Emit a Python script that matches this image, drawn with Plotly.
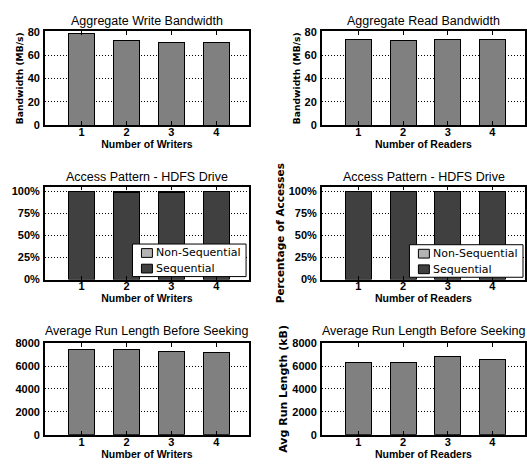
import plotly.graph_objects as go

categories = [1, 2, 3, 4]
write_bw = [78.8, 72.3, 71.2, 71.2]
read_bw = [73.8, 72.3, 73.4, 73.4]
write_seq = [99.2, 98.5, 98.5, 99.2]
write_nonseq = [0.8, 1.5, 1.5, 0.8]
read_seq = [99.2, 99.2, 99.2, 99.2]
read_nonseq = [0.8, 0.8, 0.8, 0.8]
write_runlen = [7400, 7480, 7300, 7180]
read_runlen = [6300, 6300, 6800, 6560]
legend_labels = ["Non-Sequential", "Sequential"]

W, H = 527, 468
BOLDFAM = "Liberation Sans"
TICKFONT = dict(family=BOLDFAM, size=11, color="black", weight="bold")
AXTITLEFONT = dict(family=BOLDFAM, size=10.5, color="black", weight="bold")
TITLEFONT = dict(family="Liberation Sans", size=12.5, color="black")

fig = go.Figure()

def px_x(a, b):
    return [a / W, min(b / W, 1.0)]

def px_y(top, bottom):
    return [1 - bottom / H, 1 - top / H]

panels = [
    dict(n=1, x=(45, 250), y=(26, 122.3), yr=[0, 80.5], tv=[0, 20, 40, 60, 80], tt=None,
         title="Aggregate Write Bandwidth", xt="Number of Writers", yt="Bandwidth (MB/s)", ys=9.2),
    dict(n=2, x=(323, 528), y=(26, 122.3), yr=[0, 80.5], tv=[0, 20, 40, 60, 80], tt=None,
         title="Aggregate Read Bandwidth", xt="Number of Readers", yt="Bandwidth (MB/s)", ys=9.2),
    dict(n=3, x=(45, 250), y=(185.5, 280.7), yr=[0, 105], tv=[0, 25, 50, 75, 100],
         tt=["0%", "25%", "50%", "75%", "100%"],
         title="Access Pattern - HDFS Drive", xt="Number of Writers", yt=None, ys=10),
    dict(n=4, x=(323, 528), y=(185.5, 280.7), yr=[0, 105], tv=[0, 25, 50, 75, 100],
         tt=["0%", "25%", "50%", "75%", "100%"],
         title="Access Pattern - HDFS Drive", xt="Number of Readers", yt="Percentage of Accesses", ys=10.5),
    dict(n=5, x=(45, 250), y=(346, 440), yr=[0, 8000], tv=[0, 2000, 4000, 6000, 8000], tt=None,
         title="Average Run Length Before Seeking", xt="Number of Writers", yt=None, ys=10),
    dict(n=6, x=(323, 528), y=(346, 440), yr=[0, 8000], tv=[0, 2000, 4000, 6000, 8000], tt=None,
         title="Average Run Length Before Seeking", xt="Number of Readers", yt="Avg Run Length (kB)", ys=11),
]

BAR_W = 0.58
GRAY = "#808080"
DARK = "#404040"
LIGHT = "#b4b4b4"

def add_bar(n, y, color, name=None):
    fig.add_trace(go.Bar(
        x=categories, y=y, width=BAR_W, marker=dict(color=color, line=dict(color="black", width=1)),
        xaxis="x" if n == 1 else f"x{n}", yaxis="y" if n == 1 else f"y{n}",
        name=name, showlegend=False,
    ))

add_bar(1, write_bw, GRAY)
add_bar(2, read_bw, GRAY)
add_bar(3, write_seq, DARK, "Sequential")
add_bar(3, write_nonseq, LIGHT, "Non-Sequential")
add_bar(4, read_seq, DARK, "Sequential")
add_bar(4, read_nonseq, LIGHT, "Non-Sequential")
add_bar(5, write_runlen, GRAY)
add_bar(6, read_runlen, GRAY)

layout = dict(
    width=W, height=H, margin=dict(l=0, r=0, t=0, b=0),
    paper_bgcolor="white", plot_bgcolor="white", barmode="stack",
    showlegend=False,
)

annotations = []
shapes = []
title_y = {1: 15, 2: 15, 3: 175, 4: 175, 5: 334, 6: 334}
for p in panels:
    n = p["n"]
    xk = "xaxis" if n == 1 else f"xaxis{n}"
    yk = "yaxis" if n == 1 else f"yaxis{n}"
    ya = "y" if n == 1 else f"y{n}"
    xa = "x" if n == 1 else f"x{n}"
    layout[xk] = dict(
        domain=px_x(*p["x"]), anchor=ya, range=[0.18, 4.73],
        tickvals=categories, ticks="inside", ticklen=4, tickcolor="black",
        showline=True, linecolor="black", linewidth=1.5, mirror="ticks",
        showgrid=False, zeroline=False, tickfont=TICKFONT, ticklabelstandoff=-4,
        title=dict(text=p["xt"], font=AXTITLEFONT, standoff=0),
        fixedrange=True,
    )
    ydict = dict(
        domain=px_y(*p["y"]), anchor=xa, range=p["yr"], tickvals=p["tv"],
        showline=True, linecolor="black", linewidth=1.5, mirror=True,
        showgrid=True, gridcolor="black", griddash="1px,2px", gridwidth=1,
        zeroline=False, tickfont=TICKFONT, ticks="", ticklabelstandoff=1,
    )
    if p["tt"]:
        ydict["ticktext"] = p["tt"]
    if p["yt"]:
        ydict["title"] = dict(text=p["yt"],
                              font=dict(family="DejaVu Sans", size=p["ys"], color="black", weight="bold"),
                              standoff=2)
    layout[yk] = ydict
    annotations.append(dict(
        text=p["title"], xref="paper", yref="paper",
        x=(p["x"][0] + p["x"][1]) / 2 / W,
        y=1 - title_y[n] / H, yanchor="middle", xanchor="center", showarrow=False,
        font=TITLEFONT,
    ))

# custom legends inside the Access Pattern panels
for dx, dy in [(0, 0), (278, 0.7)]:
    bx0, bx1, by0, by1 = 133 + dx, 247 + dx, 244.3 + dy, 277.7 + dy
    shapes.append(dict(type="rect", xref="paper", yref="paper",
                       x0=bx0 / W, x1=min(bx1 / W, 0.999), y0=1 - by1 / H, y1=1 - by0 / H,
                       fillcolor="white", line=dict(color="black", width=1), layer="above"))
    for i, (lab, col) in enumerate(zip(legend_labels, [LIGHT, DARK])):
        cy = 253.5 + 16 * i + dy
        shapes.append(dict(type="rect", xref="paper", yref="paper",
                           x0=(bx0 + 9) / W, x1=(bx0 + 20) / W,
                           y0=1 - (cy + 4.5) / H, y1=1 - (cy - 4.5) / H,
                           fillcolor=col, line=dict(color="black", width=1), layer="above"))
        annotations.append(dict(text=lab, xref="paper", yref="paper",
                                x=(bx0 + 22) / W, y=1 - cy / H, xanchor="left", yanchor="middle",
                                showarrow=False,
                                font=dict(family="DejaVu Sans", size=11, color="black")))

layout["annotations"] = annotations
layout["shapes"] = shapes
fig.update_layout(**layout)
fig.write_html("out.html")
